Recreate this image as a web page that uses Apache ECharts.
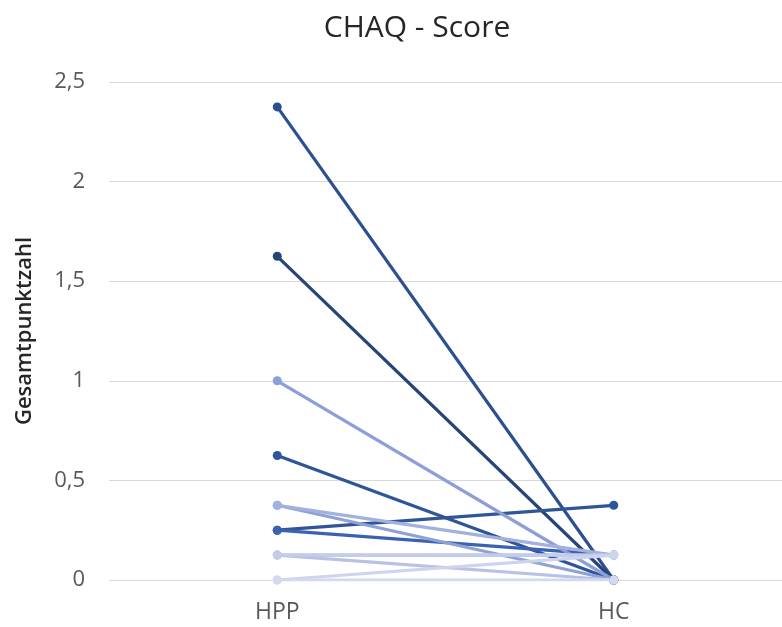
<!DOCTYPE html>
<html>
<head>
<meta charset="utf-8">
<script src="https://cdn.jsdelivr.net/npm/echarts@6/dist/echarts.min.js"></script>
<style>
  html, body { margin: 0; padding: 0; background: #fff; }
  #chart { width: 782px; height: 627px; }
</style>
</head>
<body>
<div id="chart"></div>
<script>
// Paired CHAQ scores: patients with HPP vs. healthy controls (HC)
const categories = ['HPP', 'HC'];
const yTicks = [0, 0.5, 1, 1.5, 2, 2.5];

const pairA = [2.375, 0];
const pairB = [1.625, 0];
const pairC = [1.0, 0];
const pairD = [0.625, 0];
const pairE = [0.375, 0];
const pairF = [0.375, 0.125];
const pairG = [0.25, 0.375];
const pairH = [0.25, 0.125];
const pairI = [0.125, 0.125];
const pairJ = [0.125, 0];
const pairK = [0.125, 0.125];
const pairL = [0, 0.125];
const pairM = [0, 0];

// dark pairs first, lighter pairs drawn on top
const pairs = [
  { data: pairA, color: '#2c4f8f' },
  { data: pairB, color: '#264478' },
  { data: pairG, color: '#2f5597' },
  { data: pairD, color: '#2e5597' },
  { data: pairH, color: '#3a62b0' },
  { data: pairC, color: '#8c9fd8' },
  { data: pairE, color: '#8fa2d6' },
  { data: pairF, color: '#a2b1dd' },
  { data: pairI, color: '#aab7df' },
  { data: pairJ, color: '#b7c2e4' },
  { data: pairK, color: '#c3cce9' },
  { data: pairL, color: '#cdd5ec' },
  { data: pairM, color: '#d3daef' }
];

const font = '"Open Sans", "Liberation Sans", sans-serif';
const chart = echarts.init(document.getElementById('chart'), null, { renderer: 'canvas' });

chart.setOption({
  animation: false,
  backgroundColor: '#ffffff',
  title: {
    text: 'CHAQ - Score',
    left: 412,
    top: 8,
    textAlign: 'center',
    textStyle: { fontFamily: font, fontSize: 30, fontWeight: 'normal', color: '#262626' }
  },
  grid: { left: 109, right: -11, top: 82, bottom: 47 },
  xAxis: {
    type: 'category',
    data: categories,
    boundaryGap: true,
    axisLine: { show: false },
    axisTick: { show: false },
    axisLabel: { fontFamily: font, fontSize: 23, color: '#595959', margin: 21 }
  },
  yAxis: {
    type: 'value',
    min: 0,
    max: 2.5,
    interval: 0.5,
    name: 'Gesamtpunktzahl',
    nameLocation: 'middle',
    nameGap: 73,
    nameTextStyle: { fontFamily: font, fontSize: 22, fontWeight: 600, color: '#262626' },
    axisLine: { show: false },
    axisTick: { show: false },
    splitLine: { lineStyle: { color: '#d9d9d9', width: 1 } },
    axisLabel: {
      fontFamily: font, fontSize: 22, color: '#595959', margin: 24,
      formatter: v => yTicks.includes(v) ? String(v).replace('.', ',') : ''
    }
  },
  series: pairs.map(p => ({
    type: 'line',
    data: p.data,
    symbol: 'circle',
    symbolSize: 9,
    lineStyle: { width: 3.2, color: p.color },
    itemStyle: { color: p.color },
    emphasis: { disabled: true }
  }))
});
</script>
</body>
</html>
